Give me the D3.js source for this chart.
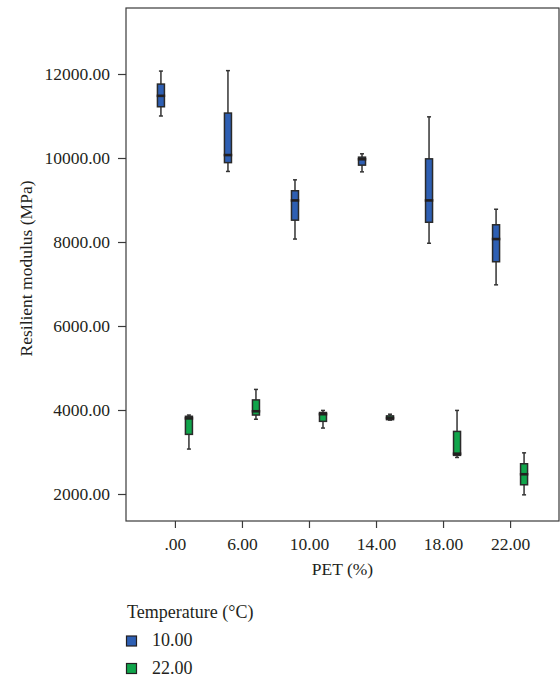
<!DOCTYPE html>
<html>
<head>
<meta charset="utf-8">
<script src="https://cdn.jsdelivr.net/npm/d3@7"></script>
<style>
  html, body { margin: 0; padding: 0; background: #fff; }
  svg { display: block; }
  text { font-family: "Liberation Serif", "DejaVu Serif", serif; fill: #231f20; }
</style>
</head>
<body>
<svg id="chart" width="560" height="679"></svg>
<script>
// ---- data ----
const categories = [".00", "6.00", "10.00", "14.00", "18.00", "22.00"];
const temperatures = ["10.00", "22.00"];
const colors = ["#2e5fb3", "#10a54b"];

// 10 °C series
const t10Min = [11000, 9680, 8070, 9670, 7970, 6980];
const t10Q1  = [11220, 9890, 8520, 9830, 8470, 7530];
const t10Med = [11480, 10070, 8990, 9970, 8990, 8070];
const t10Q3  = [11760, 11070, 9220, 10020, 9980, 8410];
const t10Max = [12070, 12080, 9480, 10100, 10980, 8780];

// 22 °C series
const t22Min = [3070, 3780, 3570, 3760, 2870, 1980];
const t22Q1  = [3420, 3880, 3730, 3770, 2920, 2220];
const t22Med = [3800, 3970, 3900, 3810, 2960, 2470];
const t22Q3  = [3850, 4240, 3940, 3860, 3490, 2720];
const t22Max = [3880, 4490, 3990, 3900, 3990, 2980];

const yTicks = [2000, 4000, 6000, 8000, 10000, 12000];

// ---- layout ----
const svg = d3.select("#chart");
const plot = { left: 126, right: 559, top: 8, bottom: 521 };
const fs = 17.5;

const x = d3.scalePoint().domain(categories).range([plot.left, plot.right]).padding(0.73);
const y = d3.scaleLinear().domain([2000, 12000]).range([494, 74]);
const offset = d3.scalePoint().domain(temperatures).range([-14, 14]);

const series = [
  { key: temperatures[0], color: colors[0], min: t10Min, q1: t10Q1, med: t10Med, q3: t10Q3, max: t10Max },
  { key: temperatures[1], color: colors[1], min: t22Min, q1: t22Q1, med: t22Med, q3: t22Q3, max: t22Max }
];

// frame
svg.append("rect")
  .attr("x", plot.left).attr("y", plot.top)
  .attr("width", plot.right - plot.left).attr("height", plot.bottom - plot.top)
  .attr("fill", "none").attr("stroke", "#3a3a3a").attr("stroke-width", 1.2);

// axes
const yAxis = d3.axisLeft(y).tickValues(yTicks).tickFormat(d3.format(".2f")).tickSize(8).tickPadding(8);
const gy = svg.append("g").attr("transform", `translate(${plot.left},0)`).call(yAxis);
gy.select(".domain").remove();
gy.selectAll("line").attr("stroke", "#3a3a3a").attr("stroke-width", 1.2);
gy.selectAll("text").attr("font-size", fs).attr("font-family", "Liberation Serif, serif").attr("fill", "#231f20");

const xAxis = d3.axisBottom(x).tickSize(7).tickPadding(10);
const gx = svg.append("g").attr("transform", `translate(0,${plot.bottom})`).call(xAxis);
gx.select(".domain").remove();
gx.selectAll("line").attr("stroke", "#3a3a3a").attr("stroke-width", 1.2);
gx.selectAll("text").attr("font-size", fs).attr("font-family", "Liberation Serif, serif").attr("fill", "#231f20");

// axis titles
svg.append("text")
  .attr("x", (plot.left + plot.right) / 2).attr("y", 575)
  .attr("text-anchor", "middle").attr("font-size", fs)
  .text("PET (%)");

svg.append("text")
  .attr("transform", `translate(32,${(plot.top + plot.bottom) / 2 + 4}) rotate(-90)`)
  .attr("text-anchor", "middle").attr("font-size", fs)
  .text("Resilient modulus (MPa)");

// boxes
const boxW = 7, capW = 4;
series.forEach(s => {
  const g = svg.append("g");
  categories.forEach((c, i) => {
    const cx = x(c) + offset(s.key);
    g.append("line")
      .attr("x1", cx).attr("x2", cx)
      .attr("y1", y(s.max[i])).attr("y2", y(s.min[i]))
      .attr("stroke", "#333").attr("stroke-width", 1.5);
    [s.max[i], s.min[i]].forEach(v => {
      g.append("line")
        .attr("x1", cx - capW / 2).attr("x2", cx + capW / 2)
        .attr("y1", y(v)).attr("y2", y(v))
        .attr("stroke", "#333").attr("stroke-width", 1.5);
    });
    g.append("rect")
      .attr("x", cx - boxW / 2).attr("width", boxW)
      .attr("y", y(s.q3[i])).attr("height", Math.max(0.5, y(s.q1[i]) - y(s.q3[i])))
      .attr("fill", s.color).attr("stroke", "#2a2a2a").attr("stroke-width", 1.5);
    g.append("line")
      .attr("x1", cx - boxW / 2 - 0.75).attr("x2", cx + boxW / 2 + 0.75)
      .attr("y1", y(s.med[i])).attr("y2", y(s.med[i]))
      .attr("stroke", "#231f20").attr("stroke-width", 2.6);
  });
});

// legend
svg.append("text").attr("x", 127).attr("y", 618).attr("font-size", 18).text("Temperature (°C)");
series.forEach((s, i) => {
  const ly = 636 + i * 27.5;
  svg.append("rect").attr("x", 126.5).attr("y", ly).attr("width", 10).attr("height", 10)
    .attr("fill", s.color).attr("stroke", "#231f20").attr("stroke-width", 1.2);
  svg.append("text").attr("x", 152).attr("y", ly + 10).attr("font-size", 18).text(s.key);
});
</script>
</body>
</html>
